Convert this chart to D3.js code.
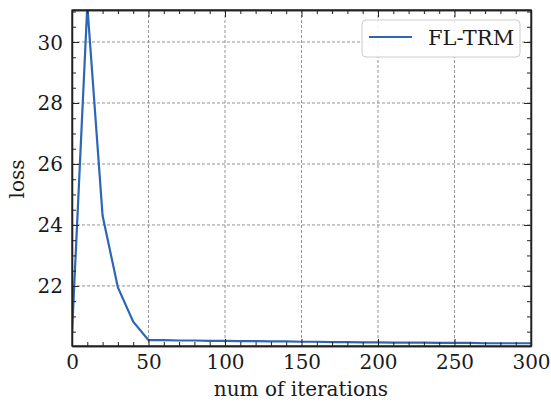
<!DOCTYPE html>
<html><head><meta charset="utf-8">
<script src="https://cdn.jsdelivr.net/npm/d3@7"></script>
<style>body{margin:0;background:#fff}svg{display:block}</style>
</head><body>
<svg id="c" width="551" height="403"></svg>
<script>
const iterations = [0,10,20,30,40,50,60,70,80,90,100,110,120,130,140,150,160,170,180,190,200,210,220,230,240,250,260,270,280,290,300];
const loss = [20.45,31.2,24.3,21.95,20.83,20.22,20.22,20.21,20.21,20.2,20.2,20.19,20.19,20.18,20.18,20.17,20.17,20.16,20.16,20.15,20.15,20.14,20.14,20.14,20.13,20.13,20.13,20.12,20.12,20.12,20.12];
const xTicks = [0,50,100,150,200,250,300];
const yTicks = [22,24,26,28,30];
const seriesName = "FL-TRM";

const svg = d3.select("#c");
const L=72, R=531, T=10, B=346;
const x = d3.scaleLinear().domain([0,300]).range([L,R]);
const y = d3.scaleLinear().domain([20.03,31.05]).range([B,T]);
const font = "DejaVu Serif";
const col = "#2d66b5";
const txt = "#1a1a1a";

svg.append("defs").append("clipPath").attr("id","clip")
  .append("rect").attr("x",L).attr("y",T).attr("width",R-L).attr("height",B-T);

// grid
const g = svg.append("g");
xTicks.slice(1,-1).forEach(v=>g.append("line").attr("x1",x(v)).attr("x2",x(v)).attr("y1",T).attr("y2",B)
  .attr("stroke","#888").attr("stroke-width",0.9).attr("stroke-dasharray","3,2"));
yTicks.forEach(v=>g.append("line").attr("x1",L).attr("x2",R).attr("y1",y(v)).attr("y2",y(v))
  .attr("stroke","#888").attr("stroke-width",0.9).attr("stroke-dasharray","3,2"));

// line
svg.append("path").datum(iterations.map((v,i)=>[v,loss[i]]))
  .attr("clip-path","url(#clip)")
  .attr("d",d3.line().x(d=>x(d[0])).y(d=>y(d[1])))
  .attr("fill","none").attr("stroke",col).attr("stroke-width",2.2);

// axes with inward ticks on all sides
const xMinor = d3.range(0,301,10).filter(v=>!xTicks.includes(v));
const yMinor = d3.range(20.5,31.01,0.5).filter(v=>!yTicks.includes(v));
function addAxis(axisFn, scale, tr, ticks, len, labels){
  const a = svg.append("g").attr("transform",tr)
    .call(axisFn(scale).tickValues(ticks).tickSizeInner(-len).tickSizeOuter(0).tickPadding(0)
      .tickFormat(labels? d3.format("d") : ""));
  a.select(".domain").attr("stroke","#222").attr("stroke-width",1.3);
  a.selectAll(".tick line").attr("stroke","#222").attr("stroke-width",1);
  a.selectAll("text").attr("font-family",font).attr("font-size",20).attr("fill",txt);
  return a;
}
addAxis(d3.axisBottom,x,`translate(0,${B})`,xTicks,7,true).selectAll("text").attr("y",23).attr("dy",0);
addAxis(d3.axisBottom,x,`translate(0,${B})`,xMinor,4,false);
addAxis(d3.axisTop,x,`translate(0,${T})`,xTicks,7,false);
addAxis(d3.axisTop,x,`translate(0,${T})`,xMinor,4,false);
addAxis(d3.axisLeft,y,`translate(${L},0)`,yTicks,7,true).selectAll("text").attr("x",-9).attr("dy","0.35em");
addAxis(d3.axisLeft,y,`translate(${L},0)`,yMinor,4,false);
addAxis(d3.axisRight,y,`translate(${R},0)`,yTicks,7,false);
addAxis(d3.axisRight,y,`translate(${R},0)`,yMinor,4,false);
svg.selectAll(".tick text").filter(function(){return this.textContent==="";}).remove();
// frame
svg.append("rect").attr("x",L).attr("y",T).attr("width",R-L).attr("height",B-T)
  .attr("fill","none").attr("stroke","#222").attr("stroke-width",1.3);

// labels
svg.append("text").attr("x",301).attr("y",396).attr("text-anchor","middle")
  .attr("font-family",font).attr("font-size",20).attr("fill",txt).text("num of iterations");
svg.append("text").attr("transform",`translate(24,${179}) rotate(-90)`).attr("text-anchor","middle")
  .attr("font-family",font).attr("font-size",20).attr("fill",txt).text("loss");

// legend
const lg = svg.append("g");
lg.append("rect").attr("x",362).attr("y",20).attr("width",158).attr("height",37).attr("rx",4)
  .attr("fill","#fff").attr("fill-opacity",0.9).attr("stroke","#ccc").attr("stroke-width",1);
lg.append("line").attr("x1",369).attr("x2",412).attr("y1",37).attr("y2",37).attr("stroke",col).attr("stroke-width",2.2);
lg.append("text").attr("x",428).attr("y",45).attr("font-family",font).attr("font-size",21).attr("fill",txt).text(seriesName);
</script>
</body></html>
